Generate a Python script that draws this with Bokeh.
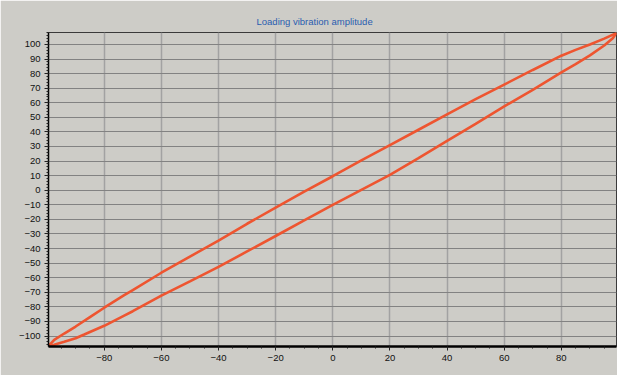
import math
from bokeh.plotting import figure
from bokeh.models import FixedTicker, Label, Range1d
from bokeh.embed import file_html
from bokeh.resources import INLINE

# ---- data ----
x_upper = [-99.5, -97.5, -94, -90, -85, -80, -73, -70, -60, -50, -40, -30, -20, -10, 0,
           10, 20, 30, 40, 50, 60, 70, 80, 85, 90, 95, 99.3]
y_upper = [-107, -102.7, -98.3, -93.5, -87, -80.6, -72, -68.5, -56.6, -45.5, -34.5, -23, -12, -1, 9.6,
           20.5, 31, 41.5, 52, 62.5, 72.5, 82.5, 92.3, 96.3, 100, 104, 107.8]
x_lower = [-99.5, -97.5, -94, -90, -87, -80, -73, -70, -60, -50, -40, -30, -20, -10, 0,
           10, 20, 30, 40, 50, 60, 70, 80, 85, 90, 95, 98, 99.3]
y_lower = [-107, -106, -104, -101.5, -99, -93, -86, -83, -72.3, -62.5, -52.6, -42, -31.4, -20.7, -10,
           0.3, 10.5, 22, 33.8, 45.5, 57.5, 68.8, 80.8, 86.5, 92.5, 99.3, 104.3, 107.8]

x_major = [-80, -60, -40, -20, 0, 20, 40, 60, 80]
x_minor = [v for v in range(-95, 100, 5)]
y_major = list(range(-100, 101, 10))
y_minor = list(range(-106, 109, 2))

title_text = "Loading vibration amplitude"
axis_text_x = "A, mkm"
axis_text_y = "A, mkm."

BG = "#cdccc7"
CURVE = "#ee5530"
FONT = "Liberation Sans"

x0, x1 = -99.5, 99.3
y0, y1 = -107.2, 108.2

p = figure(width=617, height=375, output_backend="svg", toolbar_location=None,
           x_range=Range1d(x0, x1), y_range=Range1d(y0, y1),
           min_border_left=48, min_border_right=1, min_border_top=32, min_border_bottom=29)

p.background_fill_color = BG
p.border_fill_color = BG
p.outline_line_color = "#3a3a3a"
p.outline_line_width = 1

# title
p.title.text = title_text
p.title.align = "left"
p.title.offset = 208
p.title.text_font = FONT
p.title.text_font_size = "9.5px"
p.title.text_font_style = "normal"
p.title.text_color = "#2a5db0"
p.title.standoff = 11

# axes
xa = p.xaxis[0]
ya = p.yaxis[0]
xa.ticker = FixedTicker(ticks=x_major, minor_ticks=x_minor)
ya.ticker = FixedTicker(ticks=y_major, minor_ticks=y_minor)
for ax in (xa, ya):
    ax.major_label_text_font = FONT
    ax.major_label_text_font_size = "9.5px"
    ax.major_label_text_color = "#111111"
    ax.axis_line_color = "black"
    ax.major_tick_line_color = "#222222"
    ax.minor_tick_line_color = "#222222"
    ax.major_tick_in = 0
    ax.minor_tick_in = 0
    ax.major_tick_out = 4
xa.minor_tick_out = 2
ya.minor_tick_out = 2
xa.axis_line_width = 2.5
ya.axis_line_width = 1.5
xa.major_label_standoff = 4
ya.major_label_standoff = 4

# grid
p.xgrid.grid_line_color = "#a2a2a2"
p.xgrid.grid_line_width = 1.5
p.ygrid.grid_line_color = "#828282"
p.ygrid.grid_line_width = 1.1

# curves
p.line(x_upper, y_upper, line_color=CURVE, line_width=2.6)
p.line(x_lower, y_lower, line_color=CURVE, line_width=2.6)

# axis labels
p.add_layout(Label(x=(x0 + x1) / 2, y=y0, y_offset=-18, text=axis_text_x,
                   text_align="center", text_baseline="top",
                   text_font=FONT, text_font_size="9.5px", text_color="#111111"))
p.add_layout(Label(x=x0, y=(y0 + y1) / 2, x_offset=-33, text=axis_text_y, angle=math.pi / 2,
                   text_align="center", text_baseline="middle",
                   text_font=FONT, text_font_size="9.5px", text_color="#111111"))

open("out.html", "w").write(file_html(p, INLINE))
